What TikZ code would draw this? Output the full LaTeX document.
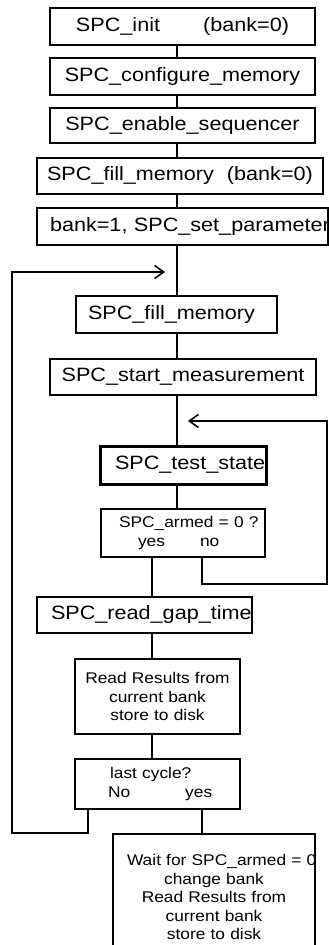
\documentclass[tikz,border=0pt]{standalone}
\usepackage{fontspec}
\setmainfont[FakeStretch=1.12]{Liberation Sans}
\usetikzlibrary{arrows.meta}
\setlength{\parindent}{0pt}
\newcommand{\bigtxt}{\fontsize{19.3}{22}\selectfont}
\newcommand{\smalltxt}{\fontsize{15.5}{18.5}\selectfont}

\begin{document}
\begin{tikzpicture}[x=1pt, y=-1pt,
  every node/.style={draw, line width=1.6pt, inner sep=0pt, font=\bigtxt},
  flow/.style={line width=1.6pt},
  back/.style={line width=1.6pt, -{Straight Barb[length=9pt,width=13pt]}}]
  \useasboundingbox (0,0) rectangle (329,945);
  \clip (0,0) rectangle (329,945);
  \coordinate (trunk) at (177,0); \coordinate (yesx) at (152,0); \coordinate (nox) at (202,0);
  \coordinate (nolast) at (88,0); \coordinate (leftrail) at (12,0);
  \coordinate (loopin) at (165,272); \coordinate (rightrail) at (327,584); \coordinate (pollin) at (188,421);
  % set-up blocks
  \node[minimum width=265pt, minimum height=37pt] (init) at (182.5,26.5) {SPC\_init\hspace{43pt}(bank=0)};
  \node[minimum width=265pt, minimum height=37pt] (config) at (182.5,76.5) {SPC\_configure\_memory};
  \node[minimum width=265pt, minimum height=35pt] (enable) at (182.5,125.5) {SPC\_enable\_sequencer};
  \node[minimum width=286pt, minimum height=36pt] (fillzero) at (180,176) {SPC\_fill\_memory\hspace{13pt}(bank=0)};
  \node[text width=265pt, inner xsep=13pt, minimum height=37pt, align=left] (setpar) at (182.5,226.5) {\mbox{bank=1, SPC\_set\_parameter}};
  % measurement loop
  \node[text width=177pt, inner xsep=12pt, minimum height=37pt, align=left] (fill) at (176.5,314.5) {\mbox{SPC\_fill\_memory}};
  \node[minimum width=266pt, minimum height=36pt] (start) at (183,377) {SPC\_start\_measurement};
  \node[text width=136pt, inner xsep=15pt, minimum height=38pt, line width=3pt, align=left] (test) at (183,465) {\mbox{SPC\_test\_state}};
  \node[text width=164pt, minimum height=48pt, align=left, font=\smalltxt] (armed) at (183,533) {\hspace*{18pt}SPC\_armed = 0 ?\\\hspace*{37pt}yes\hspace{35pt}no};
  \node[text width=187pt, inner xsep=14pt, minimum height=36pt, align=left] (gap) at (144.5,615) {\mbox{SPC\_read\_gap\_time}};
  \node[text width=165pt, minimum height=75pt, align=center, font=\smalltxt] (read) at (157.5,696.5) {Read Results from\\current bank\\store to disk};
  \node[text width=165pt, minimum height=50pt, align=left, font=\smalltxt] (last) at (157.5,784) {\hspace*{35pt}last cycle?\\\hspace*{33pt}No\hspace{55pt}yes};
  \node[text width=174pt, inner xsep=14pt, minimum height=126pt, align=center, font=\smalltxt] (wait) at (214,897) {\mbox{Wait for SPC\_armed = 0}\\change bank\\Read Results from\\current bank\\store to disk};
  % connectors
  \foreach \a/\b in {init/config, config/enable, enable/fillzero, fillzero/setpar, setpar/fill, fill/start, start/test, test/armed}
    \draw[flow] (\a.south -| trunk) -- (\b.north -| trunk);
  \foreach \a/\b in {armed/gap, gap/read, read/last}
    \draw[flow] (\a.south -| yesx) -- (\b.north -| yesx);
  \draw[flow] (last.south -| nox) -- (wait.north -| nox);
  \draw[back] (last.south -| nolast) |- (leftrail |- wait.north) |- (loopin);
  \draw[back] (armed.south -| nox) |- (rightrail) |- (pollin);
\end{tikzpicture}
\end{document}
